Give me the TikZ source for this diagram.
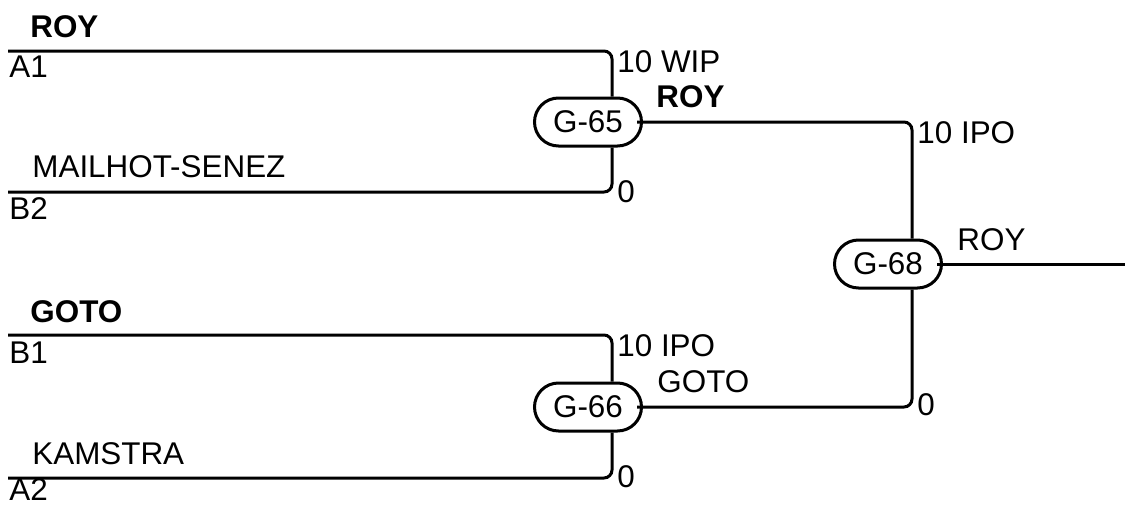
\documentclass[tikz,border=0pt]{standalone}
\usepackage{fontspec}
\setmainfont{Liberation Sans}
\usetikzlibrary{positioning}

\tikzset{
  game/.style={draw, line width=1.5pt, rectangle, rounded corners=12pt,
    minimum width=53.5pt, minimum height=24pt, inner sep=0pt},
  line/.style={line width=1.5pt, rounded corners=4pt},
  lbl/.style={anchor=base west, inner sep=0pt}
}

\begin{document}
\begin{tikzpicture}[x=0.5pt, y=-0.5pt, font=\fontsize{15.7}{18}\selectfont]
\useasboundingbox (0,0) rectangle (1131,504);

%%% games %%%
      \node[game] (g65) at (588,122) {G-65};
      \node[game] (g66) at (588,407) {G-66};
      \node[game] (g68) at (888,264) {G-68};

%%% line starts %%%
      \coordinate (a1) at (8,51);
      \coordinate (b2) at (8,192);
      \coordinate (b1) at (8,335);
      \coordinate (a2) at (8,478);
      \coordinate (out) at (1125,264);

%%% connectors %%%
      \draw[line] (a1) -| ([xshift=12pt]g65.north);
      \draw[line] (b2) -| ([xshift=12pt]g65.south);
      \draw[line] (b1) -| ([xshift=12pt]g66.north);
      \draw[line] (a2) -| ([xshift=12pt]g66.south);
      \draw[line] ([xshift=-3pt]g65.east) -| ([xshift=12pt]g68.north);
      \draw[line] ([xshift=-3pt]g66.east) -| ([xshift=12pt]g68.south);
      \draw[line] ([xshift=-3pt]g68.east) -- (out);

%%% names %%%
      \node[lbl] (n1) at (30,37) {\textbf{ROY}};
      \node[lbl] (s1) at (9,77) {A1};
      \node[lbl] (n2) at (32,177) {MAILHOT-SENEZ};
      \node[lbl] (s2) at (9,219) {B2};
      \node[lbl] (n3) at (30,322) {\textbf{GOTO}};
      \node[lbl] (s3) at (9,363) {B1};
      \node[lbl] (n4) at (32,464) {KAMSTRA};
      \node[lbl] (s4) at (9,500) {A2};

%%% scores %%%
      \node[lbl] (r1) at (617,72) {10 WIP};
      \node[lbl] (w1) at (656,107) {\textbf{ROY}};
      \node[lbl] (r2) at (617,202) {0};
      \node[lbl] (r3) at (617,356) {10 IPO};
      \node[lbl] (w2) at (657,392) {GOTO};
      \node[lbl] (r4) at (617,487) {0};
      \node[lbl] (r5) at (917,143) {10 IPO};
      \node[lbl] (w3) at (957,250) {ROY};
      \node[lbl] (r6) at (917,415) {0};

\end{tikzpicture}
\end{document}
